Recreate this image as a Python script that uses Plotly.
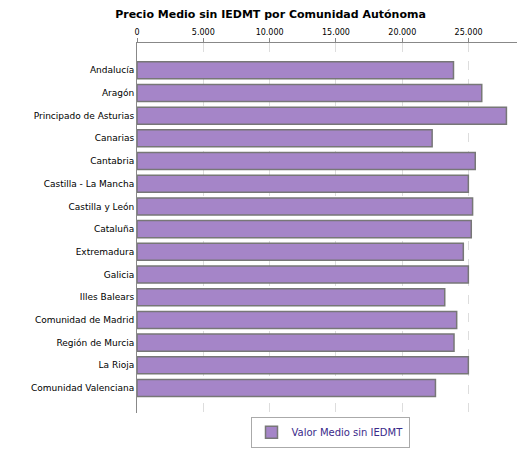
import plotly.graph_objects as go

regions = ["Andalucía", "Aragón", "Principado de Asturias", "Canarias", "Cantabria",
           "Castilla - La Mancha", "Castilla y León", "Cataluña", "Extremadura", "Galicia",
           "Illes Balears", "Comunidad de Madrid", "Región de Murcia", "La Rioja",
           "Comunidad Valenciana"]
values = [23860, 25990, 27850, 22250, 25500, 24980, 25300, 25200, 24600, 24980,
          23200, 24100, 23900, 24980, 22500]
tick_vals = [0, 5000, 10000, 15000, 20000, 25000]
tick_text = ["0", "5.000", "10.000", "15.000", "20.000", "25.000"]

fig = go.Figure()
fig.add_trace(go.Bar(x=values, y=list(range(len(regions))), orientation='h',
                     name='Valor Medio sin IEDMT',
                     marker=dict(color='#a585c8', line=dict(color='#777777', width=1.5)),
                     width=0.75, showlegend=True))
fig.update_layout(
    width=525, height=450, plot_bgcolor='white', paper_bgcolor='white',
    font=dict(family='DejaVu Sans', size=9, color='black'),
    title=dict(text='<b>Precio Medio sin IEDMT por Comunidad Autónoma</b>', x=0.5, y=0.995,
               xanchor='center', yanchor='top', font=dict(size=11)),
    margin=dict(l=129, r=10, t=35, b=28),
    legend=dict(orientation='h', x=0.5, xanchor='center', y=-0.01, yanchor='top',
                bordercolor='#aaaaaa', borderwidth=1, font=dict(color='#3a2a8a', size=10)),
)
fig.update_xaxes(side='top', range=[0, 29100], tickvals=tick_vals, ticktext=tick_text,
                 showgrid=True, gridcolor='#dddddd', griddash='dash', zeroline=False,
                 showline=True, linecolor='#888888', ticks='outside', ticklen=4, tickcolor='#888888',
                 tickfont=dict(size=8), automargin=False)
fig.update_yaxes(range=[15.1, -1.2], tickvals=list(range(len(regions))), ticktext=regions,
                 showline=True, linecolor='#888888', ticks='', ticksuffix='  ',
                 showgrid=False, automargin=False)
fig.write_html("out.html")
